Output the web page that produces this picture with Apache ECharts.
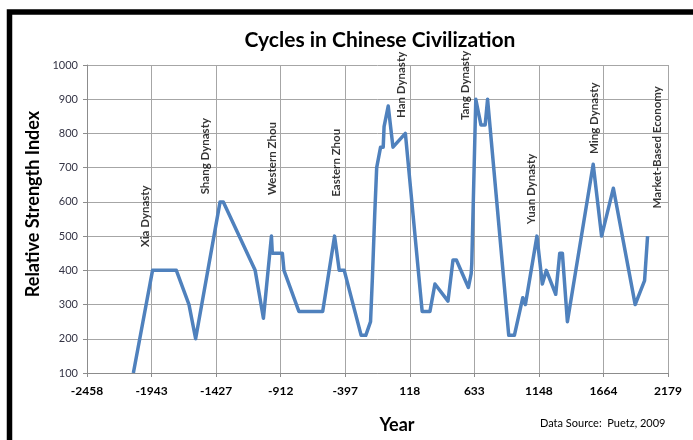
<!DOCTYPE html>
<html>
<head>
<meta charset="utf-8">
<script src="https://cdn.jsdelivr.net/npm/echarts@6/dist/echarts.min.js"></script>
<style>
  html, body { margin: 0; padding: 0; background: #fff; }
  #chart { width: 693px; height: 440px; }
</style>
</head>
<body>
<div id="chart"></div>
<script>
// strength index over time (year, value)
const years = [-2088, -1935, -1745, -1644, -1591, -1396, -1370, -1116, -1050, -986, -979, -899, -886,
  -767, -577, -482, -445, -405, -270, -233, -195, -180, -162, -146, -115, -94, -87, -54, -16, 83, 97,
  217, 279, 319, 423, 463, 490, 586, 608, 613, 645, 686, 720, 739, 908, 953, 1020, 1041, 1133, 1176,
  1208, 1283, 1315, 1336, 1376, 1582, 1649, 1743, 1917, 1992, 2016]
const strength = [100, 400, 400, 300, 200, 600, 600, 400, 260, 500, 450, 450, 400,
  280, 280, 500, 400, 400, 210, 210, 250, 380, 560, 700, 760, 760, 820, 880, 760, 800, 800,
  280, 280, 360, 310, 430, 430, 350, 390, 420, 900, 825, 825, 900, 210, 210, 320, 300, 500, 360,
  400, 330, 450, 450, 250, 710, 500, 640, 300, 370, 500]

// era labels (text, year, index value where the text starts)
const eraNames = ['Xia Dynasty', 'Shang Dynasty', 'Western Zhou', 'Eastern Zhou', 'Han Dynasty',
  'Tang Dynasty', 'Yuan Dynasty', 'Ming Dynasty', 'Market-Based Economy']
const eraYears = [-1993, -1515, -980, -470, 52, 565, 1088, 1594, 2092]
const eraBase = [468, 622, 620, 615, 845, 839, 535, 740, 581]

const xTicks = ['-2458', '-1943', '-1427', '-912', '-397', '118', '633', '1148', '1664', '2179']
const yMin = 100, yMax = 1000, yStep = 100

// the x axis runs from -2458 in 9 equal steps; shift so the axis starts at 0
const xStart = -2458, xEnd = 2179
const xStep = (xEnd - xStart) / 9

const FONT = 'Lato, "Liberation Sans", Arial, sans-serif'

const myChart = echarts.init(document.getElementById('chart'))

const option = {
  animation: false,
  backgroundColor: '#fff',
  grid: { left: 87, right: 25, top: 65, bottom: 67 },
  graphic: [
    { type: 'rect', shape: { x: 9.5, y: 12, width: 900, height: 900 },
      style: { fill: 'none', stroke: '#000', lineWidth: 5.5 } },
    { type: 'text', x: 380, y: 40,
      style: { text: 'Cycles in Chinese Civilization', font: 'bold 21px ' + FONT, fill: '#000',
        align: 'center', verticalAlign: 'middle' } },
    { type: 'text', x: 33, y: 204, rotation: Math.PI / 2,
      style: { text: 'Relative Strength Index', font: 'bold 18px ' + FONT, fill: '#000',
        align: 'center', verticalAlign: 'middle' } },
    { type: 'text', x: 397, y: 425,
      style: { text: 'Year', font: 'bold 18px ' + FONT, fill: '#000',
        align: 'center', verticalAlign: 'middle' } },
    { type: 'text', x: 540, y: 423,
      style: { text: 'Data Source:  Puetz, 2009', font: '11px ' + FONT, fill: '#000',
        align: 'left', verticalAlign: 'middle' } }
  ],
  xAxis: {
    type: 'value',
    min: 0,
    max: xEnd - xStart,
    interval: xStep,
    axisLine: { show: true, lineStyle: { color: '#8c8c8c', width: 1 } },
    axisTick: { show: true, length: 4, lineStyle: { color: '#8c8c8c' } },
    axisLabel: {
      margin: 12,
      color: '#000',
      fontFamily: FONT,
      fontWeight: 'bold',
      fontSize: 12,
      formatter: v => xTicks[Math.round(v / xStep)]
    },
    splitLine: { show: true, lineStyle: { color: '#a6a6a6', width: 1 } }
  },
  yAxis: {
    type: 'value',
    min: yMin,
    max: yMax,
    interval: yStep,
    axisLine: { show: true, lineStyle: { color: '#8c8c8c', width: 1 } },
    axisTick: { show: true, length: 4, lineStyle: { color: '#8c8c8c' } },
    axisLabel: { margin: 9, color: '#333344', fontFamily: FONT, fontSize: 11, formatter: v => String(v) },
    splitLine: { show: true, lineStyle: { color: '#a6a6a6', width: 1 } }
  },
  series: [
    {
      name: 'Relative Strength Index',
      type: 'line',
      data: years.map((y, i) => [y - xStart, strength[i]]),
      showSymbol: false,
      symbol: 'none',
      lineStyle: { color: '#4F81BD', width: 3.5, join: 'round' },
      z: 3
    },
    {
      name: 'eras',
      type: 'scatter',
      symbolSize: 0,
      silent: true,
      data: eraNames.map((n, i) => ({ name: n, value: [eraYears[i] - xStart, eraBase[i]] })),
      label: {
        show: true,
        formatter: p => p.name,
        position: 'inside',
        rotate: 90,
        align: 'left',
        verticalAlign: 'middle',
        color: '#000',
        fontFamily: FONT,
        fontWeight: 'bold',
        fontSize: 11.5
      },
      z: 4
    }
  ]
}

myChart.setOption(option)
</script>
</body>
</html>
